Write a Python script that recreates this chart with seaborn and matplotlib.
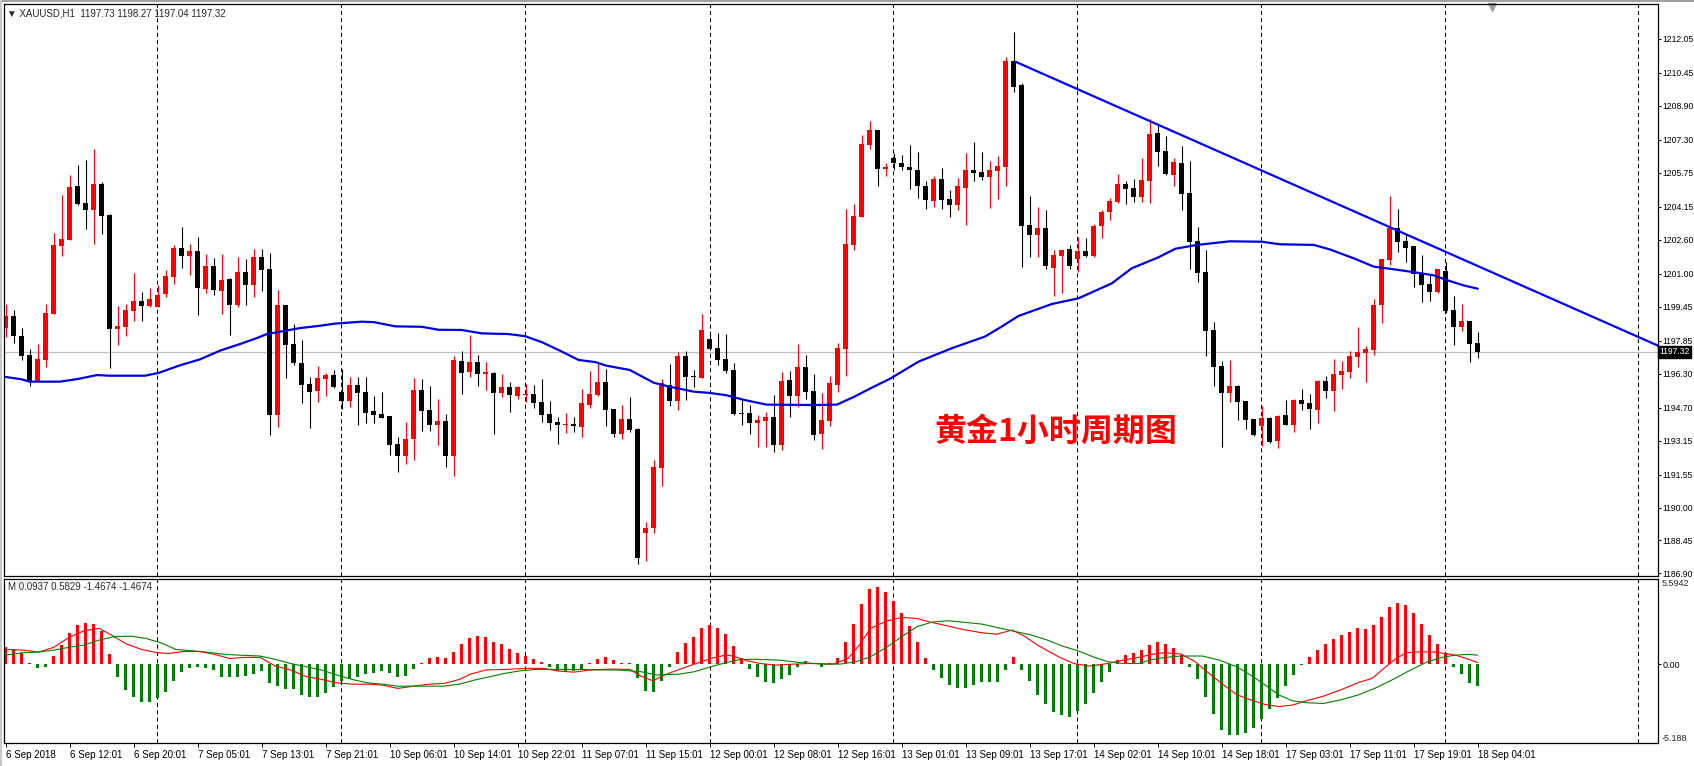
import numpy as np
import pandas as pd
import matplotlib
matplotlib.use('Agg')
import matplotlib.pyplot as plt
import matplotlib.transforms as mtransforms
import seaborn as sns

# XAUUSD H1 свечи (open / high / low / close), по 10 в строке
opens = [
    1198.46, 1199.01, 1198.07, 1197.17, 1195.92, 1196.95, 1199.12, 1202.32, 1202.60, 1205.12,
    1204.33, 1204.01, 1205.22, 1203.76, 1198.41, 1198.51, 1199.26, 1199.72, 1199.50, 1199.45,
    1200.02, 1200.86, 1202.21, 1201.85, 1202.07, 1200.30, 1201.36, 1200.20, 1200.75, 1199.54,
    1201.08, 1200.48, 1201.79, 1201.22, 1194.37, 1199.54, 1197.69, 1196.80, 1195.81, 1195.49,
    1196.06, 1196.23, 1195.43, 1195.02, 1195.76, 1195.43, 1194.54, 1194.40, 1194.30, 1192.99,
    1192.44, 1193.24, 1195.53, 1194.59, 1193.90, 1194.07, 1192.44, 1196.89, 1196.39, 1196.84,
    1196.29, 1196.33, 1195.40, 1195.67, 1195.26, 1195.28, 1195.34, 1194.96, 1194.40, 1194.02,
    1193.88, 1193.93, 1193.80, 1194.84, 1195.29, 1195.90, 1194.62, 1193.47, 1194.15, 1193.68,
    1188.80, 1189.05, 1191.87, 1195.76, 1195.03, 1197.13, 1196.19, 1196.11, 1197.93, 1197.50,
    1196.99, 1196.47, 1194.46, 1194.43, 1193.99, 1194.08, 1194.24, 1192.96, 1196.00, 1195.26,
    1196.61, 1195.48, 1193.47, 1194.08, 1195.76, 1197.47, 1202.36, 1203.68, 1207.07, 1207.76,
    1205.94, 1206.46, 1206.19, 1206.02, 1205.87, 1205.12, 1204.42, 1205.45, 1204.51, 1204.24,
    1205.04, 1205.87, 1205.78, 1205.56, 1205.84, 1206.03, 1211.00, 1209.87, 1203.29, 1202.83,
    1203.15, 1201.28, 1201.84, 1202.16, 1201.70, 1202.08, 1201.84, 1203.26, 1203.90, 1204.37,
    1205.22, 1205.03, 1204.62, 1205.37, 1207.62, 1206.77, 1205.65, 1206.20, 1204.78, 1202.53,
    1201.06, 1198.33, 1196.65, 1195.40, 1195.71, 1195.01, 1194.16, 1193.85, 1194.21, 1193.14,
    1194.35, 1193.90, 1195.06, 1194.91, 1194.60, 1195.95, 1195.49, 1196.23, 1196.39, 1197.09,
    1197.28, 1197.41, 1199.52, 1201.66, 1203.15, 1202.53, 1202.30, 1201.03, 1200.51, 1200.12,
    1201.12, 1199.29, 1198.51, 1198.77, 1197.73]
highs = [
    1199.57, 1199.29, 1198.44, 1197.46, 1197.71, 1199.57, 1202.91, 1204.70, 1205.64, 1206.11,
    1206.35, 1206.87, 1205.31, 1203.81, 1199.48, 1199.57, 1201.03, 1200.14, 1200.33, 1200.47,
    1201.17, 1202.35, 1203.20, 1202.40, 1202.73, 1201.93, 1201.74, 1201.93, 1200.80, 1201.79,
    1201.69, 1202.16, 1202.16, 1201.97, 1200.23, 1199.54, 1198.63, 1197.88, 1196.14, 1196.65,
    1196.33, 1196.47, 1196.51, 1196.14, 1196.14, 1196.14, 1195.26, 1195.43, 1194.30, 1193.32,
    1194.02, 1196.09, 1196.04, 1195.71, 1195.10, 1194.40, 1197.13, 1197.36, 1198.11, 1197.17,
    1196.84, 1196.37, 1196.28, 1195.90, 1195.71, 1195.81, 1195.76, 1196.04, 1195.01, 1194.26,
    1194.44, 1194.26, 1195.57, 1196.42, 1196.83, 1196.50, 1194.62, 1194.82, 1195.18, 1193.75,
    1189.30, 1192.23, 1196.03, 1196.75, 1197.31, 1197.36, 1196.47, 1199.10, 1198.16, 1198.21,
    1198.16, 1196.80, 1195.13, 1194.81, 1194.34, 1194.48, 1195.29, 1196.37, 1196.42, 1197.69,
    1197.17, 1196.28, 1195.37, 1196.19, 1197.74, 1204.04, 1204.28, 1207.52, 1208.18, 1207.76,
    1206.22, 1206.66, 1206.58, 1207.03, 1206.72, 1205.36, 1205.59, 1205.97, 1204.93, 1205.50,
    1206.66, 1207.19, 1206.72, 1206.30, 1206.53, 1211.19, 1212.37, 1209.97, 1204.65, 1204.13,
    1203.99, 1202.11, 1202.13, 1202.35, 1202.72, 1202.68, 1203.34, 1203.99, 1204.57, 1205.69,
    1205.36, 1205.45, 1206.44, 1208.27, 1207.98, 1207.47, 1206.44, 1207.00, 1206.30, 1203.18,
    1202.11, 1198.71, 1196.89, 1196.94, 1195.76, 1195.01, 1194.16, 1194.77, 1194.26, 1194.35,
    1195.06, 1195.10, 1195.57, 1195.34, 1196.01, 1196.18, 1196.98, 1196.89, 1197.36, 1198.49,
    1197.60, 1199.81, 1201.69, 1204.65, 1204.04, 1202.88, 1202.30, 1201.88, 1200.98, 1201.22,
    1201.55, 1199.95, 1199.57, 1198.77, 1198.27]
lows = [
    1198.04, 1197.75, 1196.95, 1195.73, 1195.92, 1196.62, 1199.12, 1201.85, 1202.60, 1204.23,
    1203.10, 1202.41, 1202.88, 1196.58, 1197.62, 1198.09, 1198.79, 1198.79, 1199.45, 1199.45,
    1199.92, 1200.53, 1201.28, 1200.95, 1199.07, 1200.11, 1200.01, 1199.12, 1198.13, 1199.45,
    1199.54, 1199.92, 1200.20, 1193.43, 1193.80, 1196.11, 1196.72, 1194.93, 1193.75, 1194.98,
    1195.26, 1195.64, 1194.65, 1194.74, 1193.90, 1193.99, 1193.99, 1194.22, 1192.48, 1191.68,
    1192.06, 1192.25, 1193.61, 1193.61, 1192.95, 1191.92, 1191.50, 1195.35, 1196.15, 1195.73,
    1195.54, 1193.47, 1195.21, 1194.51, 1195.12, 1194.98, 1194.70, 1194.04, 1193.66, 1193.00,
    1193.52, 1193.57, 1193.33, 1194.70, 1195.26, 1193.85, 1193.33, 1193.24, 1193.57, 1187.35,
    1187.50, 1188.80, 1191.00, 1194.79, 1194.60, 1195.07, 1195.68, 1196.11, 1197.41, 1196.72,
    1196.34, 1194.37, 1193.90, 1193.47, 1192.86, 1192.86, 1192.63, 1192.72, 1194.27, 1194.71,
    1195.09, 1193.19, 1192.77, 1193.85, 1195.45, 1196.19, 1202.13, 1203.68, 1206.88, 1205.14,
    1205.61, 1205.87, 1205.87, 1205.00, 1204.57, 1204.06, 1204.15, 1204.06, 1203.68, 1204.01,
    1203.30, 1205.37, 1205.40, 1204.10, 1204.53, 1205.14, 1209.56, 1201.33, 1201.80, 1201.80,
    1201.23, 1199.96, 1200.11, 1201.22, 1201.09, 1201.80, 1201.80, 1202.69, 1203.54, 1204.34,
    1204.29, 1204.39, 1204.37, 1204.32, 1206.08, 1205.64, 1205.14, 1204.01, 1201.20, 1200.62,
    1197.14, 1195.73, 1192.83, 1194.98, 1194.13, 1193.71, 1193.36, 1192.91, 1193.05, 1192.81,
    1193.90, 1193.57, 1194.60, 1193.71, 1193.99, 1195.17, 1194.55, 1195.59, 1196.11, 1196.61,
    1195.92, 1197.19, 1198.69, 1201.42, 1202.03, 1201.56, 1200.39, 1199.68, 1199.73, 1200.10,
    1199.16, 1197.64, 1198.32, 1196.86, 1197.04]
closes = [
    1199.01, 1198.08, 1197.14, 1195.95, 1196.99, 1199.15, 1202.35, 1202.63, 1205.08, 1204.29,
    1204.01, 1205.22, 1203.73, 1198.41, 1198.54, 1199.29, 1199.72, 1199.50, 1199.81, 1200.00,
    1200.89, 1202.21, 1201.85, 1202.07, 1200.34, 1201.36, 1200.25, 1200.70, 1199.54, 1201.08,
    1200.48, 1201.79, 1201.19, 1194.37, 1199.54, 1197.66, 1196.82, 1195.78, 1195.45, 1196.09,
    1196.23, 1195.68, 1195.02, 1195.76, 1195.40, 1194.46, 1194.37, 1194.22, 1192.95, 1192.44,
    1193.22, 1195.53, 1194.55, 1193.90, 1194.07, 1192.44, 1196.94, 1196.34, 1196.84, 1196.29,
    1196.37, 1195.40, 1195.67, 1195.31, 1195.67, 1195.34, 1194.93, 1194.37, 1193.99, 1193.90,
    1193.93, 1193.85, 1194.91, 1195.34, 1195.90, 1194.60, 1193.47, 1194.15, 1193.66, 1187.65,
    1189.05, 1191.91, 1195.86, 1195.03, 1197.13, 1196.15, 1196.12, 1198.35, 1197.46, 1196.95,
    1196.44, 1194.41, 1194.40, 1193.99, 1194.10, 1194.24, 1192.96, 1195.95, 1195.26, 1196.61,
    1195.45, 1193.43, 1194.10, 1195.86, 1197.50, 1202.39, 1203.71, 1207.10, 1207.76, 1205.94,
    1205.98, 1206.22, 1206.03, 1205.89, 1205.14, 1204.48, 1205.45, 1204.48, 1204.24, 1205.12,
    1205.87, 1205.75, 1205.56, 1205.87, 1206.06, 1211.00, 1209.79, 1203.26, 1202.83, 1203.15,
    1201.38, 1201.88, 1202.13, 1201.38, 1202.08, 1201.84, 1203.26, 1203.90, 1204.42, 1205.22,
    1205.00, 1204.62, 1205.40, 1207.58, 1206.74, 1205.69, 1206.25, 1204.76, 1202.50, 1201.04,
    1198.32, 1196.62, 1195.40, 1195.71, 1194.98, 1194.13, 1193.41, 1194.21, 1193.10, 1194.30,
    1193.90, 1195.06, 1194.88, 1194.65, 1195.97, 1195.49, 1196.28, 1196.42, 1197.13, 1197.31,
    1197.45, 1199.52, 1201.69, 1203.15, 1202.50, 1202.21, 1201.00, 1200.48, 1200.15, 1201.22,
    1199.24, 1198.51, 1198.77, 1197.71, 1197.32]

# скользящая средняя (синяя линия), точки
ma_x = [0, 2, 3, 6.8, 9.1, 11.4, 13.0, 17.4, 19.1, 21.8, 24.3, 26.8, 29.3, 31.4, 32.6, 34.3,
        36.8, 39.1, 41.2, 44.5, 46.0, 48.7, 52.0, 54.1, 57.0, 59.5, 62.8, 64.9, 67.0, 69.1,
        71.6, 73.7, 75.1, 78.0, 81.0, 83.0, 86.0, 88.0, 90.1, 92.2, 95.1, 101.0, 103.9, 106.0,
        108.5, 110.5, 114.1, 118.25, 122.4, 124.5, 126.6, 130.75, 134.1, 138.25, 140.75, 144.1,
        146.2, 148.9, 153.0, 157.0, 159.3, 163.5, 165.5, 168.5, 171.0, 173.0, 176.0, 178.5,
        180.1, 182.2, 184.0]
ma_y = [1196.14, 1196.03, 1195.92, 1195.92, 1196.05, 1196.23, 1196.20, 1196.20, 1196.33, 1196.69,
        1196.97, 1197.38, 1197.69, 1197.97, 1198.15, 1198.27, 1198.44, 1198.54, 1198.65, 1198.74,
        1198.72, 1198.52, 1198.50, 1198.36, 1198.35, 1198.19, 1198.16, 1198.06, 1197.78, 1197.41,
        1196.94, 1196.84, 1196.67, 1196.47, 1195.87, 1195.68, 1195.45, 1195.39, 1195.28, 1195.07,
        1194.84, 1194.82, 1194.84, 1195.20, 1195.68, 1196.05, 1196.86, 1197.49, 1198.04, 1198.51,
        1199.01, 1199.57, 1199.84, 1200.54, 1201.25, 1201.77, 1202.17, 1202.35, 1202.52, 1202.50,
        1202.38, 1202.35, 1202.14, 1201.72, 1201.33, 1201.23, 1201.07, 1200.92, 1200.70, 1200.45,
        1200.29]

# трендовая линия
trend_x = [126.25, 206.6]
trend_y = [1210.96, 1197.60]

# MACD гистограмма
macd_hist = [
    1.10, 0.96, 0.70, 0.04, -0.28, -0.18, 0.53, 1.25, 2.06, 2.57,
    2.72, 2.63, 2.19, 0.66, -0.83, -1.73, -2.19, -2.50, -2.48, -2.26,
    -1.82, -1.10, -0.50, -0.28, -0.22, -0.28, -0.42, -0.86, -0.83, -0.83,
    -0.79, -0.66, -0.44, -1.25, -1.47, -1.67, -1.67, -2.04, -2.17, -2.15,
    -1.89, -1.51, -1.10, -1.01, -0.83, -0.66, -0.61, -0.44, -0.61, -0.83,
    -0.79, -0.31, 0.09, 0.42, 0.44, 0.39, 0.79, 1.34, 1.73, 1.84,
    1.75, 1.47, 1.32, 0.99, 0.70, 0.55, 0.33, 0.15, -0.18, -0.44,
    -0.46, -0.46, -0.39, 0.04, 0.35, 0.46, 0.26, 0.09, 0.09, -0.94,
    -1.75, -1.82, -1.10, -0.18, 0.79, 1.38, 1.78, 2.37, 2.57, 2.37,
    1.97, 1.18, 0.39, -0.31, -0.83, -1.16, -1.27, -1.01, -0.70, -0.18,
    0.20, 0.05, -0.18, 0.05, 0.39, 1.47, 2.63, 3.97, 4.91, 5.04,
    4.74, 4.14, 3.33, 2.48, 1.45, 0.39, -0.39, -0.90, -1.36, -1.54,
    -1.54, -1.38, -1.21, -1.21, -1.16, -0.39, 0.46, -0.39, -1.14, -2.02,
    -2.61, -3.18, -3.36, -3.46, -3.11, -2.61, -1.91, -1.21, -0.55, 0.26,
    0.59, 0.70, 0.92, 1.25, 1.45, 1.32, 1.03, 0.59, -0.18, -1.01,
    -2.19, -3.31, -4.36, -4.63, -4.69, -4.56, -4.21, -3.60, -2.96, -2.24,
    -1.47, -0.75, -0.07, 0.44, 0.92, 1.32, 1.64, 1.91, 2.13, 2.35,
    2.30, 2.57, 3.07, 3.75, 4.01, 3.90, 3.38, 2.63, 1.91, 1.32,
    0.70, -0.22, -0.68, -1.23, -1.4674]

# MACD линии (красная и зелёная)
macd_x = [0.0, 2.2, 4.1, 6.0, 7.9, 9.8, 11.7, 13.2, 15.1, 17.0, 18.9, 20.3, 22.3, 24.2, 26.1,
          28.0, 29.9, 31.8, 33.7, 35.6, 37.6, 39.5, 41.4, 43.3, 45.2, 47.1, 49.0, 51.0, 52.9,
          54.8, 56.7, 58.1, 60.0, 62.4, 65.3, 67.2, 69.1, 71.0, 73.0, 75.6, 78.0, 79.4, 80.9,
          82.3, 84.2, 86.1, 88.1, 90.0, 90.9, 92.4, 94.3, 96.2, 98.6, 100.5, 103.4, 105.3,
          106.7, 108.1, 110.1, 112.0, 113.9, 115.3, 117.2, 119.6, 122.0, 123.9, 125.8, 127.3,
          129.2, 131.6, 133.5, 135.4, 137.8, 139.7, 141.6, 143.5, 144.8, 146.9, 148.7, 150.4,
          152.2, 153.9, 155.6, 157.4, 159.1, 160.8, 162.6, 164.7, 166.9, 169.1, 170.8, 172.5,
          173.8, 175.1, 176.9, 178.6, 179.9, 181.2, 182.9, 184.0]
macd_y = [0.96, 0.92, 0.79, 1.10, 1.75, 2.19, 2.35, 1.91, 1.32, 0.96, 0.75, 0.70, 0.83, 0.83, 0.64,
          0.37, 0.44, 0.44, -0.13, -0.39, -0.83, -1.01, -1.23, -1.32, -1.32, -1.38, -1.60, -1.45,
          -1.32, -1.27, -1.01, -0.66, -0.39, -0.35, -0.28, -0.28, -0.46, -0.53, -0.39, -0.33,
          -0.35, -0.79, -1.10, -0.72, -0.35, 0.0, 0.37, 0.59, 0.53, 0.26, 0.04, -0.07, 0.0, 0.04,
          0.0, 0.37, 1.25, 2.35, 2.83, 3.07, 3.00, 2.79, 2.57, 2.28, 2.06, 1.97, 2.24, 1.84, 1.18,
          0.48, 0.04, -0.13, 0.04, 0.26, 0.44, 0.66, 0.75, 0.66, 0.15, -0.61, -1.36, -2.02, -2.35,
          -2.65, -2.79, -2.70, -2.41, -2.11, -1.69, -1.21, -0.94, -0.18, 0.37, 0.75, 0.81, 0.79,
          0.70, 0.59, 0.31, 0.0937]
sig_x = [0.0, 2.2, 4.1, 6.0, 7.9, 9.8, 11.7, 13.6, 15.6, 17.5, 19.4, 21.3, 23.2, 25.1, 27.0, 29.0,
         31.8, 33.7, 35.6, 37.6, 39.5, 41.4, 43.3, 45.2, 47.1, 49.0, 51.0, 52.9, 54.8, 56.7, 58.6,
         60.5, 62.4, 64.3, 66.3, 68.2, 70.1, 72.0, 74.0, 76.6, 79.4, 81.4, 84.2, 86.1, 88.1, 90.0,
         91.9, 93.8, 96.7, 99.5, 102.4, 104.3, 106.2, 108.1, 110.1, 112.0, 113.9, 115.8, 117.7,
         119.6, 122.0, 124.4, 126.3, 128.2, 130.2, 132.1, 134.0, 135.9, 137.8, 139.7, 141.6,
         143.0, 144.8, 146.9, 149.6, 151.7, 153.9, 155.6, 157.4, 159.1, 160.8, 162.6, 164.7,
         166.9, 169.1, 171.2, 173.4, 175.6, 177.7, 179.5, 181.2, 182.9, 184.0]
sig_y = [0.59, 0.75, 0.79, 0.92, 1.10, 1.25, 1.58, 1.80, 1.84, 1.69, 1.40, 0.96, 0.88, 0.79, 0.66,
         0.59, 0.53, 0.31, 0.04, -0.18, -0.39, -0.72, -1.01, -1.23, -1.32, -1.45, -1.45, -1.45,
         -1.45, -1.32, -1.05, -0.83, -0.61, -0.44, -0.35, -0.35, -0.35, -0.35, -0.38, -0.39,
         -0.50, -0.72, -0.66, -0.50, -0.18, 0.09, 0.31, 0.31, 0.26, 0.09, 0.0, 0.0, 0.15, 0.48,
         1.10, 1.80, 2.46, 2.76, 2.85, 2.76, 2.63, 2.35, 2.13, 1.91, 1.58, 1.18, 0.88, 0.48,
         0.15, 0.04, 0.04, 0.26, 0.44, 0.53, 0.53, 0.26, -0.18, -0.72, -1.36, -2.02, -2.41,
         -2.54, -2.59, -2.35, -2.02, -1.58, -1.01, -0.39, 0.15, 0.44, 0.59, 0.64, 0.5829]

time_labels = ["6 Sep 2018", "6 Sep 12:01", "6 Sep 20:01", "7 Sep 05:01", "7 Sep 13:01",
               "7 Sep 21:01", "10 Sep 06:01", "10 Sep 14:01", "10 Sep 22:01", "11 Sep 07:01",
               "11 Sep 15:01", "12 Sep 00:01", "12 Sep 08:01", "12 Sep 16:01", "13 Sep 01:01",
               "13 Sep 09:01", "13 Sep 17:01", "14 Sep 02:01", "14 Sep 10:01", "14 Sep 18:01",
               "17 Sep 03:01", "17 Sep 11:01", "17 Sep 19:01", "18 Sep 04:01"]
price_ticks = [1212.05, 1210.45, 1208.90, 1207.30, 1205.75, 1204.15, 1202.60, 1201.00, 1199.45,
               1197.85, 1196.30, 1194.70, 1193.15, 1191.55, 1190.00, 1188.45, 1186.90]
grid_bars = [18.95, 41.9, 64.9, 88.0, 110.95, 133.9, 156.95, 179.95, 204.0]

sns.set_theme(style='white')
plt.rcParams['font.family'] = ['Liberation Sans', 'DejaVu Sans']

W, H = 1694, 766
fig = plt.figure(figsize=(W / 100, H / 100), dpi=100)
fig.patch.set_facecolor('white')
ax = fig.add_axes([4 / W, 1 - 576 / H, 1654 / W, 572 / H])
ax2 = fig.add_axes([4 / W, 1 - 743 / H, 1654 / W, 164 / H])

xlim = (-0.21, 206.53)
n = len(opens)
x = np.arange(n)
o, hi, lo, c = map(np.array, (opens, highs, lows, closes))
cols = np.where(c >= o, '#ff0000', '#000000')

# свечи
ax.vlines(x, lo, hi, colors=cols, lw=0.8)
ax.bar(x, np.maximum(np.abs(c - o), 0.06), bottom=np.minimum(o, c), width=0.62,
       color=cols, linewidth=0)

ma_df = pd.DataFrame({'bar': ma_x, 'ma': ma_y})
sns.lineplot(data=ma_df, x='bar', y='ma', ax=ax, color='#0000dd', lw=1.6)
sns.lineplot(x=trend_x, y=trend_y, ax=ax, color='#0000ff', lw=1.6)
ax.axhline(closes[-1], color='#c0c0c0', lw=0.9, zorder=0)

for ga in (ax, ax2):
    for g in grid_bars:
        ga.axvline(g, color='black', lw=0.75, linestyle=(0, (4, 3)), zorder=0)
    ga.set_xlim(*xlim)
    for s in ga.spines.values():
        s.set_color('black')
        s.set_linewidth(0.9)
    ga.set_xlabel('')
    ga.set_ylabel('')

ax.set_ylim(1186.78, 1213.68)
ax.yaxis.tick_right()
ax.set_yticks(price_ticks, labels=[f'{v:.2f}' for v in price_ticks])
ax.tick_params(axis='y', right=True, left=False, direction='out', length=2, width=0.7,
               pad=1, labelsize=6.2, colors='black')
ax.tick_params(axis='x', bottom=False, labelbottom=False)

# текущая цена
blend = mtransforms.blended_transform_factory(ax.transAxes, ax.transData)
ax.text(1.0008, closes[-1], f'{closes[-1]:.2f}', transform=blend, color='white', fontsize=6.2,
        va='center', ha='left',
        bbox=dict(boxstyle='square,pad=0.15', facecolor='black', edgecolor='black'))

# MACD
hcols = np.where(np.array(macd_hist) >= 0, '#ff0000', '#008000')
ax2.bar(x, macd_hist, width=0.42, color=hcols, linewidth=0)
sns.lineplot(x=macd_x, y=macd_y, ax=ax2, color='#ff0000', lw=0.8)
sns.lineplot(x=sig_x, y=sig_y, ax=ax2, color='#008000', lw=0.8)
ax2.set_ylim(-5.188, 5.5942)
ax2.yaxis.tick_right()
ax2.set_yticks([0], labels=['0.00'])
ax2.tick_params(axis='y', right=True, left=False, direction='out', length=2, width=0.7,
                pad=1, labelsize=6.5, colors='black')
blend2 = mtransforms.blended_transform_factory(ax2.transAxes, ax2.transData)
ax2.text(1.002, 5.5942, '5.5942', transform=blend2, fontsize=6.5, va='top', ha='left')
ax2.text(1.002, -5.188, '-5.188', transform=blend2, fontsize=6.5, va='bottom', ha='left')

ax2.set_xticks(np.arange(0, n, 8), labels=time_labels, ha='left')
ax2.tick_params(axis='x', bottom=True, direction='out', length=3, width=0.7, pad=2,
                labelsize=7, colors='black')

# подписи
fig.text(7 / W, 1 - 13 / H, '▼ XAUUSD,H1  1197.73 1198.27 1197.04 1197.32',
         fontsize=7, va='center', ha='left')
fig.text(8 / W, 1 - 587 / H, 'M 0.0937 0.5829 -1.4674 -1.4674', fontsize=7,
         va='center', ha='left')
fig.text(1056 / W, 1 - 432 / H, '黄金1小时周期图', color='#ff0000', fontsize=23,
         fontweight='bold', family=['Noto Sans CJK SC', 'DejaVu Sans'],
         va='center', ha='center')
ax.plot([0.8998], [0.995], marker='v', color='#a0a0a0', ms=6, transform=ax.transAxes,
        clip_on=False)

# рамка окна
fig.add_artist(plt.Line2D([0, 1], [1 - 0.5 / H, 1 - 0.5 / H], color='#a0a0a0', lw=1.5))
fig.add_artist(plt.Line2D([1 / W, 1 / W], [0, 1], color='#c8c8c8', lw=1.5))

fig.savefig('out.png', dpi=100)
